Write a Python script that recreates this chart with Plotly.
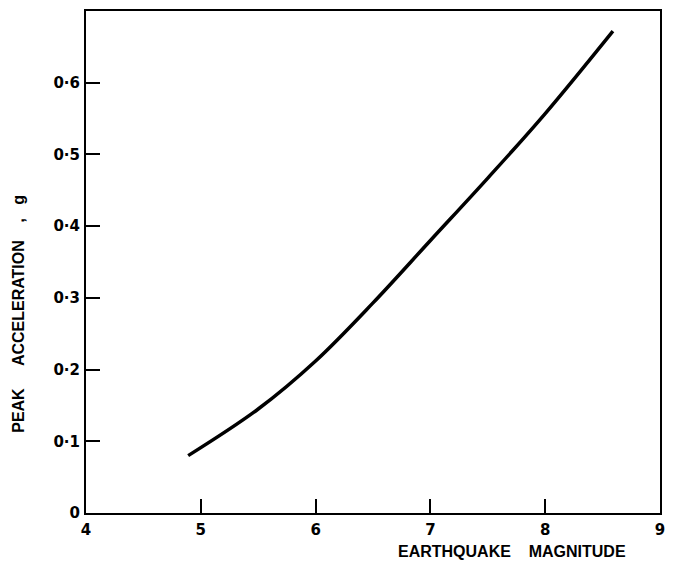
import plotly.graph_objects as go

magnitude = [4.89, 5.5, 6.0, 6.5, 7.0, 7.5, 8.0, 8.59]
peak_acc = [0.080, 0.145, 0.212, 0.293, 0.380, 0.467, 0.557, 0.672]

x_ticks = [4, 5, 6, 7, 8, 9]
x_ticktext = ["4", "5", "6", "7", "8", "9"]
y_ticks = [0, 0.1, 0.2, 0.3, 0.4, 0.5, 0.6]
y_ticktext = ["0", "0·1", "0·2", "0·3", "0·4", "0·5", "0·6"]

TICKFONT = dict(family="DejaVu Sans", size=15, color="black", weight="bold")
TITLEFONT = dict(family="Liberation Sans", size=16, color="black", weight="bold")

# page body has an 8px margin in the browser, so the figure is sized to fit
W, H = 660, 552

fig = go.Figure()
fig.add_trace(go.Scatter(
    x=magnitude, y=peak_acc, mode="lines",
    line=dict(color="black", width=3.5, shape="spline", smoothing=1.0),
    hoverinfo="skip", showlegend=False,
))

axis_common = dict(
    showline=True, linecolor="black", linewidth=2, mirror=True,
    ticks="inside", ticklen=14, tickwidth=2, tickcolor="black",
    showgrid=False, zeroline=False,
    tickfont=TICKFONT,
)

fig.update_xaxes(range=[4, 9], tickvals=x_ticks, ticktext=x_ticktext,
                 ticklabelstandoff=2, **axis_common)
fig.update_yaxes(range=[0, 0.7], tickvals=y_ticks, ticktext=y_ticktext,
                 ticklabelstandoff=1, **axis_common)

L, R, T, B = 78, 8, 1, 47
pw, ph = W - L - R, H - T - B

def px_to_paper(xp, yp):
    return (xp - L) / pw, (H - B - yp) / ph

tx, ty = px_to_paper(503.5, 544)
fig.add_annotation(
    text="EARTHQUAKE&nbsp;&nbsp;&nbsp;&nbsp;MAGNITUDE",
    xref="paper", yref="paper", x=tx, y=ty, xanchor="center", yanchor="middle",
    showarrow=False, font=TITLEFONT, borderpad=0,
)
yx, yy = px_to_paper(11, 305)
fig.add_annotation(
    text="PEAK&nbsp;&nbsp;&nbsp;&nbsp;&nbsp;ACCELERATION&nbsp;&nbsp;&nbsp;&nbsp;,&nbsp;&nbsp;&nbsp;g",
    xref="paper", yref="paper", x=yx, y=yy, xanchor="center", yanchor="middle",
    textangle=-90, showarrow=False, font=TITLEFONT, borderpad=0,
)

fig.update_layout(
    width=W, height=H,
    margin=dict(l=L, r=R, t=T, b=B),
    paper_bgcolor="white", plot_bgcolor="white",
)

fig.write_html("out.html")
